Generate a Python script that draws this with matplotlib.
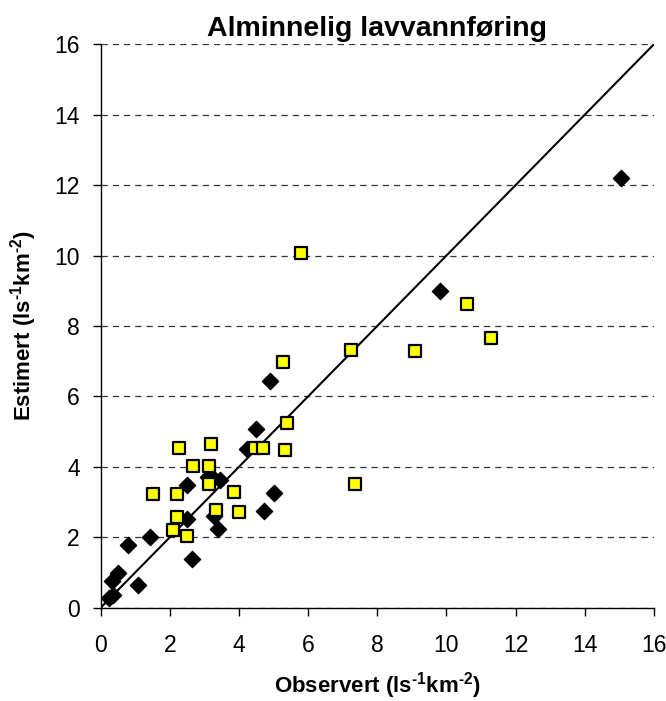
import matplotlib
matplotlib.use("Agg")
import matplotlib.pyplot as plt

plt.rcParams['font.family'] = ['Liberation Sans', 'DejaVu Sans']
plt.rcParams['mathtext.fontset'] = 'custom'
plt.rcParams['mathtext.rm'] = 'Liberation Sans:bold'
plt.rcParams['mathtext.bf'] = 'Liberation Sans:bold'
plt.rcParams['mathtext.default'] = 'bf'

title = "Alminnelig lavvannføring"
xlabel = r"Observert (ls$^{\text{-1}}$km$^{\text{-2}}$)"
ylabel = r"Estimert (ls$^{\text{-1}}$km$^{\text{-2}}$)"

# Black diamonds
diam_x = [0.25, 0.37, 0.34, 0.50, 1.07, 0.80, 1.43, 2.63, 2.49, 3.28, 3.40, 4.73,
          5.02, 2.49, 3.10, 3.25, 3.45, 4.22, 4.49, 4.90, 9.81, 15.06]
diam_y = [0.29, 0.36, 0.76, 1.00, 0.64, 1.79, 2.01, 1.38, 2.52, 2.61, 2.23, 2.74,
          3.26, 3.49, 3.72, 3.68, 3.62, 4.51, 5.08, 6.43, 9.00, 12.19]

# Yellow squares
sq_x = [2.51, 2.10, 2.22, 3.33, 4.00, 1.53, 2.22, 3.86, 3.14, 3.14, 2.66, 2.28,
        3.18, 4.47, 4.71, 5.33, 5.40, 5.28, 5.79, 7.24, 7.36, 9.09, 10.60, 11.30]
sq_y = [2.04, 2.21, 2.57, 2.78, 2.73, 3.23, 3.23, 3.29, 3.51, 4.03, 4.03, 4.54,
        4.65, 4.54, 4.54, 4.49, 5.24, 6.99, 10.06, 7.33, 3.51, 7.28, 8.63, 7.67]

line_x = [0, 16]
line_y = [0, 16]

ticks = [0, 2, 4, 6, 8, 10, 12, 14, 16]

fig = plt.figure(figsize=(6.66, 7.01), dpi=100)
ax = fig.add_axes([0.151, 0.133, 0.831, 0.804])

ax.plot(line_x, line_y, color='black', lw=1.5, zorder=2)
ax.scatter(diam_x, diam_y, marker='D', s=68, color='black', zorder=3)
ax.scatter(sq_x, sq_y, marker='s', s=72, facecolor='#FFFF00', edgecolor='black',
           linewidths=1.6, zorder=4)

ax.set_xlim(0, 16)
ax.set_ylim(0, 16)
ax.set_xticks(ticks)
ax.set_yticks(ticks)
ax.tick_params(axis='both', direction='out', length=6, width=1, labelsize=16.5)
ax.tick_params(axis='x', pad=13)
ax.tick_params(axis='y', pad=9)
ax.yaxis.grid(True, linestyle=(0, (5, 4)), color='#333333', lw=0.9)
ax.set_axisbelow(True)
for s in ['top', 'right']:
    ax.spines[s].set_visible(False)
for s in ['left', 'bottom']:
    ax.spines[s].set_linewidth(1.0)

ax.set_title(title, fontsize=20.5, fontweight='bold', pad=6)
ax.set_xlabel(xlabel, fontsize=16, fontweight='bold', labelpad=9)
ax.set_ylabel(ylabel, fontsize=16, fontweight='bold', labelpad=11)

fig.savefig("out.png", dpi=100)
